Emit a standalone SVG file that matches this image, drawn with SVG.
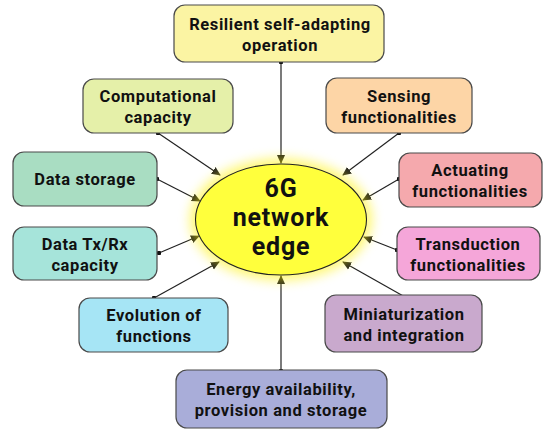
<svg xmlns="http://www.w3.org/2000/svg" width="547" height="430" viewBox="0 0 547 430">
  <style>
    .box { stroke: #4a4a4a; stroke-width: 1.2; }
    .lbl { font-family: Roboto, "Liberation Sans", sans-serif; font-weight: bold; font-size: 16.5px; letter-spacing: 0.6px; fill: #111; text-anchor: middle; }
    .hub { font-family: Roboto, "Liberation Sans", sans-serif; font-weight: bold; font-size: 25px; letter-spacing: 0.8px; fill: #111; text-anchor: middle; }
    .link { stroke: #222; stroke-width: 1.2; fill: none; marker-start: url(#dot); marker-end: url(#arrow); }
  </style>
  <defs>
    <marker id="arrow" viewBox="0 0 10 10" refX="9" refY="5" markerWidth="9" markerHeight="9" markerUnits="userSpaceOnUse" orient="auto">
      <path d="M0,0.5 L10,5 L0,9.5 z" fill="#222"/>
    </marker>
    <marker id="dot" viewBox="0 0 10 10" refX="5" refY="5" markerWidth="4.5" markerHeight="4.5" markerUnits="userSpaceOnUse">
      <circle cx="5" cy="5" r="5" fill="#111"/>
    </marker>
    <filter id="glow" x="-30%" y="-30%" width="160%" height="160%">
      <feGaussianBlur stdDeviation="6"/>
    </filter>
  </defs>

  <g id="connectors">
    <line class="link" x1="281" y1="62" x2="281" y2="163"/>
    <line class="link" x1="158" y1="133" x2="220" y2="175"/>
    <line class="link" x1="399" y1="133" x2="343" y2="175"/>
    <line class="link" x1="157" y1="179" x2="200" y2="201"/>
    <line class="link" x1="159" y1="253" x2="199" y2="236"/>
    <line class="link" x1="399" y1="179" x2="363" y2="200"/>
    <line class="link" x1="397" y1="250" x2="364" y2="237"/>
    <line class="link" x1="154" y1="298" x2="219" y2="262"/>
    <line class="link" x1="405" y1="297" x2="343" y2="262"/>
    <line class="link" x1="281" y1="371" x2="281" y2="276"/>
  </g>

  <g id="hub">
    <ellipse cx="281" cy="219.5" rx="91" ry="61" fill="#fff200" opacity="0.55" filter="url(#glow)"/>
    <ellipse cx="281" cy="219.5" rx="85.5" ry="55.5" fill="#ffff3c" stroke="#222" stroke-width="1.1"/>
    <text class="hub" x="281" y="197">6G</text>
    <text class="hub" x="281" y="226">network</text>
    <text class="hub" x="281" y="255">edge</text>
  </g>

  <g id="resilient">
    <rect class="box" x="174" y="5" width="210" height="57" rx="11" fill="#fbf4a3"/>
    <text class="lbl" x="280" y="30">Resilient self-adapting</text>
    <text class="lbl" x="280" y="51">operation</text>
  </g>
  <g id="computational">
    <rect class="box" x="83" y="79" width="150" height="54" rx="11" fill="#e5f0a9"/>
    <text class="lbl" x="158" y="102">Computational</text>
    <text class="lbl" x="158" y="123">capacity</text>
  </g>
  <g id="sensing">
    <rect class="box" x="326" y="78" width="146" height="55" rx="11" fill="#fdd5a6"/>
    <text class="lbl" x="399" y="102">Sensing</text>
    <text class="lbl" x="399" y="123">functionalities</text>
  </g>
  <g id="data-storage">
    <rect class="box" x="13" y="152" width="144" height="54" rx="11" fill="#a9ddc2"/>
    <text class="lbl" x="85" y="185">Data storage</text>
  </g>
  <g id="data-txrx">
    <rect class="box" x="13" y="227" width="144" height="53" rx="11" fill="#a6e4da"/>
    <text class="lbl" x="85" y="250">Data Tx/Rx</text>
    <text class="lbl" x="85" y="271">capacity</text>
  </g>
  <g id="actuating">
    <rect class="box" x="399" y="153" width="143" height="54" rx="11" fill="#f5a9ad"/>
    <text class="lbl" x="470" y="176">Actuating</text>
    <text class="lbl" x="470" y="197">functionalities</text>
  </g>
  <g id="transduction">
    <rect class="box" x="397" y="227" width="143" height="53" rx="11" fill="#f5a6d9"/>
    <text class="lbl" x="468" y="250">Transduction</text>
    <text class="lbl" x="468" y="271">functionalities</text>
  </g>
  <g id="evolution">
    <rect class="box" x="79" y="298" width="149" height="54" rx="11" fill="#a6e5f5"/>
    <text class="lbl" x="154" y="321">Evolution of</text>
    <text class="lbl" x="154" y="342">functions</text>
  </g>
  <g id="miniaturization">
    <rect class="box" x="325" y="295" width="157" height="57" rx="11" fill="#c9a9cd"/>
    <text class="lbl" x="404" y="320">Miniaturization</text>
    <text class="lbl" x="404" y="341">and integration</text>
  </g>
  <g id="energy">
    <rect class="box" x="176" y="370" width="211" height="58" rx="11" fill="#a9add9"/>
    <text class="lbl" x="281" y="395">Energy availability,</text>
    <text class="lbl" x="281" y="416">provision and storage</text>
  </g>
</svg>
